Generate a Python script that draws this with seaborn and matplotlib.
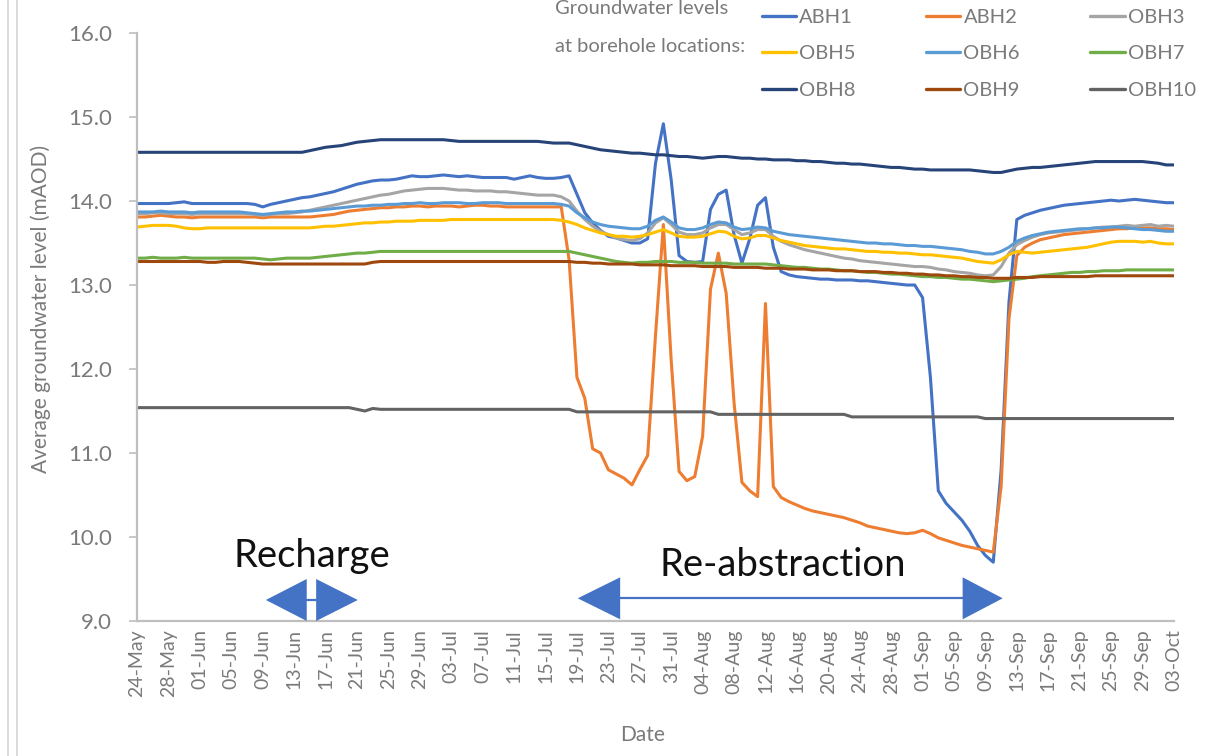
import numpy as np
import pandas as pd
import matplotlib
matplotlib.use("Agg")
import matplotlib.pyplot as plt
import matplotlib.dates as mdates
from matplotlib.lines import Line2D
import seaborn as sns

# Daily average groundwater level (mAOD) at each borehole, 24 May - 03 Oct
dates = pd.date_range("2021-05-24", "2021-10-03", freq="D")

abh1 = [
    13.97, 13.97, 13.97, 13.97, 13.97, 13.98, 13.99, 13.97, 13.97, 13.97,
    13.97, 13.97, 13.97, 13.97, 13.97, 13.96, 13.93, 13.96, 13.98, 14.00,
    14.02, 14.04, 14.05, 14.07, 14.09, 14.11, 14.14, 14.17, 14.20, 14.22,
    14.24, 14.25, 14.25, 14.26, 14.28, 14.30, 14.29, 14.29, 14.30, 14.31,
    14.30, 14.29, 14.30, 14.29, 14.28, 14.28, 14.28, 14.28, 14.26, 14.28,
    14.30, 14.28, 14.27, 14.27, 14.28, 14.30, 14.08, 13.86, 13.74, 13.65,
    13.58, 13.56, 13.53, 13.50, 13.50, 13.55, 14.45, 14.92, 14.25, 13.35,
    13.28, 13.27, 13.28, 13.90, 14.08, 14.13, 13.60, 13.26, 13.55, 13.95,
    14.04, 13.45, 13.16, 13.12, 13.10, 13.09, 13.08, 13.07, 13.07, 13.06,
    13.06, 13.06, 13.05, 13.05, 13.04, 13.03, 13.02, 13.01, 13.00, 13.00,
    12.85, 11.90, 10.55, 10.40, 10.30, 10.20, 10.07, 9.90, 9.78, 9.70,
    10.80, 12.80, 13.78, 13.83, 13.86, 13.89, 13.91, 13.93, 13.95, 13.96,
    13.97, 13.98, 13.99, 14.00, 14.01, 14.00, 14.01, 14.02, 14.01, 14.00,
    13.99, 13.98, 13.98,
]

abh2 = [
    13.81, 13.81, 13.82, 13.83, 13.82, 13.81, 13.81, 13.80, 13.81, 13.81,
    13.81, 13.81, 13.81, 13.81, 13.81, 13.81, 13.80, 13.81, 13.81, 13.81,
    13.81, 13.81, 13.81, 13.82, 13.83, 13.84, 13.86, 13.88, 13.89, 13.90,
    13.91, 13.92, 13.92, 13.93, 13.93, 13.94, 13.94, 13.93, 13.94, 13.94,
    13.94, 13.93, 13.94, 13.95, 13.95, 13.94, 13.94, 13.93, 13.93, 13.93,
    13.93, 13.93, 13.93, 13.93, 13.93, 13.30, 11.90, 11.65, 11.05, 11.00,
    10.80, 10.75, 10.70, 10.62, 10.80, 10.97, 12.40, 13.72, 12.10, 10.78,
    10.67, 10.72, 11.20, 12.95, 13.38, 12.90, 11.60, 10.65, 10.55, 10.48,
    12.78, 10.60, 10.47, 10.42, 10.38, 10.34, 10.31, 10.29, 10.27, 10.25,
    10.23, 10.20, 10.17, 10.13, 10.11, 10.09, 10.07, 10.05, 10.04, 10.05,
    10.08, 10.04, 9.99, 9.96, 9.93, 9.90, 9.88, 9.86, 9.84, 9.82,
    10.60, 12.60, 13.35, 13.45, 13.50, 13.54, 13.56, 13.58, 13.60, 13.61,
    13.62, 13.63, 13.64, 13.65, 13.66, 13.67, 13.67, 13.68, 13.68, 13.68,
    13.67, 13.67, 13.66,
]

obh3 = [
    13.85, 13.85, 13.86, 13.86, 13.85, 13.85, 13.85, 13.84, 13.85, 13.85,
    13.85, 13.85, 13.85, 13.85, 13.85, 13.84, 13.83, 13.84, 13.85, 13.85,
    13.86, 13.87, 13.89, 13.91, 13.93, 13.95, 13.97, 13.99, 14.01, 14.03,
    14.05, 14.07, 14.08, 14.10, 14.12, 14.13, 14.14, 14.15, 14.15, 14.15,
    14.14, 14.13, 14.13, 14.12, 14.12, 14.12, 14.11, 14.11, 14.10, 14.09,
    14.08, 14.07, 14.07, 14.07, 14.05, 14.00, 13.88, 13.78, 13.70, 13.64,
    13.60, 13.56, 13.54, 13.53, 13.55, 13.62, 13.74, 13.80, 13.72, 13.63,
    13.60, 13.60, 13.62, 13.68, 13.72, 13.72, 13.66, 13.60, 13.62, 13.66,
    13.66, 13.58, 13.52, 13.48, 13.45, 13.42, 13.40, 13.38, 13.36, 13.34,
    13.32, 13.31, 13.29, 13.28, 13.27, 13.26, 13.25, 13.24, 13.23, 13.22,
    13.22, 13.21, 13.19, 13.18, 13.16, 13.15, 13.14, 13.12, 13.11, 13.12,
    13.22, 13.38, 13.48, 13.53, 13.57, 13.60, 13.62, 13.63, 13.64, 13.65,
    13.66, 13.67, 13.68, 13.69, 13.69, 13.70, 13.71, 13.70, 13.71, 13.72,
    13.70, 13.71, 13.70,
]

obh5 = [
    13.69, 13.70, 13.71, 13.71, 13.71, 13.70, 13.68, 13.67, 13.67, 13.68,
    13.68, 13.68, 13.68, 13.68, 13.68, 13.68, 13.68, 13.68, 13.68, 13.68,
    13.68, 13.68, 13.68, 13.69, 13.70, 13.70, 13.71, 13.72, 13.73, 13.74,
    13.74, 13.75, 13.75, 13.76, 13.76, 13.76, 13.77, 13.77, 13.77, 13.77,
    13.78, 13.78, 13.78, 13.78, 13.78, 13.78, 13.78, 13.78, 13.78, 13.78,
    13.78, 13.78, 13.78, 13.78, 13.77, 13.75, 13.72, 13.68, 13.65, 13.62,
    13.60, 13.58, 13.58, 13.57, 13.58, 13.60, 13.63, 13.66, 13.62, 13.58,
    13.57, 13.57, 13.58, 13.61, 13.64, 13.63, 13.58, 13.55, 13.56, 13.59,
    13.59, 13.56, 13.53, 13.51, 13.49, 13.47, 13.46, 13.45, 13.44, 13.43,
    13.43, 13.42, 13.41, 13.40, 13.40, 13.39, 13.39, 13.38, 13.38, 13.37,
    13.36, 13.36, 13.35, 13.34, 13.33, 13.32, 13.30, 13.28, 13.27, 13.26,
    13.30, 13.36, 13.40, 13.39, 13.38, 13.39, 13.40, 13.41, 13.42, 13.43,
    13.44, 13.45, 13.47, 13.49, 13.51, 13.52, 13.52, 13.52, 13.51, 13.52,
    13.50, 13.49, 13.49,
]

obh6 = [
    13.87, 13.87, 13.87, 13.88, 13.87, 13.87, 13.87, 13.86, 13.87, 13.87,
    13.87, 13.87, 13.87, 13.87, 13.86, 13.85, 13.84, 13.85, 13.86, 13.87,
    13.87, 13.88, 13.88, 13.89, 13.90, 13.91, 13.92, 13.93, 13.94, 13.94,
    13.95, 13.95, 13.96, 13.96, 13.97, 13.97, 13.98, 13.97, 13.97, 13.98,
    13.98, 13.98, 13.97, 13.97, 13.98, 13.98, 13.98, 13.97, 13.97, 13.97,
    13.97, 13.97, 13.97, 13.97, 13.96, 13.94, 13.86, 13.80, 13.75, 13.72,
    13.70, 13.69, 13.68, 13.67, 13.67, 13.70, 13.77, 13.81, 13.75, 13.68,
    13.66, 13.66, 13.68, 13.72, 13.75, 13.74, 13.69, 13.66, 13.67, 13.69,
    13.68, 13.64, 13.62, 13.60, 13.59, 13.58, 13.57, 13.56, 13.55, 13.54,
    13.53, 13.52, 13.51, 13.50, 13.50, 13.49, 13.49, 13.48, 13.47, 13.47,
    13.46, 13.46, 13.45, 13.44, 13.43, 13.42, 13.40, 13.39, 13.37, 13.37,
    13.40, 13.45, 13.52, 13.56, 13.59, 13.61, 13.63, 13.64, 13.65, 13.66,
    13.67, 13.67, 13.68, 13.68, 13.69, 13.69, 13.68, 13.67, 13.66, 13.66,
    13.65, 13.64, 13.64,
]

obh7 = [
    13.32, 13.32, 13.33, 13.32, 13.32, 13.32, 13.33, 13.32, 13.32, 13.32,
    13.32, 13.32, 13.32, 13.32, 13.32, 13.32, 13.31, 13.30, 13.31, 13.32,
    13.32, 13.32, 13.32, 13.33, 13.34, 13.35, 13.36, 13.37, 13.38, 13.38,
    13.39, 13.40, 13.40, 13.40, 13.40, 13.40, 13.40, 13.40, 13.40, 13.40,
    13.40, 13.40, 13.40, 13.40, 13.40, 13.40, 13.40, 13.40, 13.40, 13.40,
    13.40, 13.40, 13.40, 13.40, 13.40, 13.40, 13.38, 13.36, 13.34, 13.32,
    13.30, 13.28, 13.27, 13.26, 13.27, 13.27, 13.28, 13.28, 13.28, 13.27,
    13.27, 13.27, 13.26, 13.26, 13.26, 13.26, 13.25, 13.25, 13.25, 13.25,
    13.25, 13.24, 13.23, 13.22, 13.21, 13.21, 13.20, 13.19, 13.19, 13.18,
    13.17, 13.17, 13.16, 13.15, 13.15, 13.14, 13.13, 13.13, 13.12, 13.11,
    13.10, 13.10, 13.09, 13.09, 13.08, 13.07, 13.07, 13.06, 13.05, 13.04,
    13.05, 13.06, 13.07, 13.08, 13.10, 13.11, 13.12, 13.13, 13.14, 13.15,
    13.15, 13.16, 13.16, 13.17, 13.17, 13.17, 13.18, 13.18, 13.18, 13.18,
    13.18, 13.18, 13.18,
]

obh8 = [
    14.58, 14.58, 14.58, 14.58, 14.58, 14.58, 14.58, 14.58, 14.58, 14.58,
    14.58, 14.58, 14.58, 14.58, 14.58, 14.58, 14.58, 14.58, 14.58, 14.58,
    14.58, 14.58, 14.60, 14.62, 14.64, 14.65, 14.66, 14.68, 14.70, 14.71,
    14.72, 14.73, 14.73, 14.73, 14.73, 14.73, 14.73, 14.73, 14.73, 14.73,
    14.72, 14.71, 14.71, 14.71, 14.71, 14.71, 14.71, 14.71, 14.71, 14.71,
    14.71, 14.71, 14.70, 14.69, 14.69, 14.69, 14.67, 14.65, 14.63, 14.61,
    14.60, 14.59, 14.58, 14.57, 14.57, 14.56, 14.55, 14.55, 14.54, 14.53,
    14.53, 14.52, 14.51, 14.52, 14.53, 14.53, 14.52, 14.51, 14.51, 14.50,
    14.50, 14.49, 14.49, 14.49, 14.48, 14.48, 14.47, 14.47, 14.46, 14.45,
    14.45, 14.44, 14.44, 14.43, 14.42, 14.41, 14.40, 14.40, 14.39, 14.38,
    14.38, 14.37, 14.37, 14.37, 14.37, 14.37, 14.37, 14.36, 14.35, 14.34,
    14.34, 14.36, 14.38, 14.39, 14.40, 14.40, 14.41, 14.42, 14.43, 14.44,
    14.45, 14.46, 14.47, 14.47, 14.47, 14.47, 14.47, 14.47, 14.47, 14.46,
    14.45, 14.43, 14.43,
]

obh9 = [
    13.28, 13.28, 13.28, 13.28, 13.28, 13.28, 13.28, 13.28, 13.28, 13.27,
    13.27, 13.28, 13.28, 13.28, 13.27, 13.26, 13.25, 13.25, 13.25, 13.25,
    13.25, 13.25, 13.25, 13.25, 13.25, 13.25, 13.25, 13.25, 13.25, 13.25,
    13.27, 13.28, 13.28, 13.28, 13.28, 13.28, 13.28, 13.28, 13.28, 13.28,
    13.28, 13.28, 13.28, 13.28, 13.28, 13.28, 13.28, 13.28, 13.28, 13.28,
    13.28, 13.28, 13.28, 13.28, 13.28, 13.28, 13.27, 13.27, 13.26, 13.26,
    13.25, 13.25, 13.25, 13.25, 13.24, 13.24, 13.24, 13.24, 13.23, 13.23,
    13.23, 13.23, 13.22, 13.22, 13.22, 13.22, 13.21, 13.21, 13.21, 13.21,
    13.20, 13.20, 13.20, 13.19, 13.19, 13.19, 13.18, 13.18, 13.18, 13.17,
    13.17, 13.17, 13.16, 13.16, 13.16, 13.15, 13.15, 13.14, 13.14, 13.13,
    13.13, 13.12, 13.12, 13.11, 13.11, 13.10, 13.10, 13.09, 13.09, 13.08,
    13.08, 13.08, 13.09, 13.09, 13.09, 13.10, 13.10, 13.10, 13.10, 13.10,
    13.10, 13.10, 13.11, 13.11, 13.11, 13.11, 13.11, 13.11, 13.11, 13.11,
    13.11, 13.11, 13.11,
]

obh10 = [
    11.54, 11.54, 11.54, 11.54, 11.54, 11.54, 11.54, 11.54, 11.54, 11.54,
    11.54, 11.54, 11.54, 11.54, 11.54, 11.54, 11.54, 11.54, 11.54, 11.54,
    11.54, 11.54, 11.54, 11.54, 11.54, 11.54, 11.54, 11.54, 11.52, 11.50,
    11.53, 11.52, 11.52, 11.52, 11.52, 11.52, 11.52, 11.52, 11.52, 11.52,
    11.52, 11.52, 11.52, 11.52, 11.52, 11.52, 11.52, 11.52, 11.52, 11.52,
    11.52, 11.52, 11.52, 11.52, 11.52, 11.52, 11.49, 11.49, 11.49, 11.49,
    11.49, 11.49, 11.49, 11.49, 11.49, 11.49, 11.49, 11.49, 11.49, 11.49,
    11.49, 11.49, 11.49, 11.49, 11.46, 11.46, 11.46, 11.46, 11.46, 11.46,
    11.46, 11.46, 11.46, 11.46, 11.46, 11.46, 11.46, 11.46, 11.46, 11.46,
    11.46, 11.43, 11.43, 11.43, 11.43, 11.43, 11.43, 11.43, 11.43, 11.43,
    11.43, 11.43, 11.43, 11.43, 11.43, 11.43, 11.43, 11.43, 11.41, 11.41,
    11.41, 11.41, 11.41, 11.41, 11.41, 11.41, 11.41, 11.41, 11.41, 11.41,
    11.41, 11.41, 11.41, 11.41, 11.41, 11.41, 11.41, 11.41, 11.41, 11.41,
    11.41, 11.41, 11.41,
]

series_names = ["ABH1", "ABH2", "OBH3", "OBH5", "OBH6", "OBH7", "OBH8", "OBH9", "OBH10"]
series_values = [abh1, abh2, obh3, obh5, obh6, obh7, obh8, obh9, obh10]
series_colors = ["#4472C4", "#ED7D31", "#A5A5A5", "#FFC000", "#5B9BD5",
                 "#70AD47", "#264478", "#9E480E", "#636363"]

tick_labels = [
    "24-May", "28-May", "01-Jun", "05-Jun", "09-Jun", "13-Jun", "17-Jun",
    "21-Jun", "25-Jun", "29-Jun", "03-Jul", "07-Jul", "11-Jul", "15-Jul",
    "19-Jul", "23-Jul", "27-Jul", "31-Jul", "04-Aug", "08-Aug", "12-Aug",
    "16-Aug", "20-Aug", "24-Aug", "28-Aug", "01-Sep", "05-Sep", "09-Sep",
    "13-Sep", "17-Sep", "21-Sep", "25-Sep", "29-Sep", "03-Oct",
]
y_ticks = [9.0, 10.0, 11.0, 12.0, 13.0, 14.0, 15.0, 16.0]

# Long-form table for seaborn
df = pd.DataFrame({
    "Date": np.tile(dates, len(series_names)),
    "Level": np.concatenate(series_values),
    "Borehole": np.repeat(series_names, len(dates)),
})

sns.set_theme(style="white")
plt.rcParams["font.family"] = ["Lato", "DejaVu Sans"]

TEXT_GREY = "#7A7A7A"
AXIS_GREY = "#BFBFBF"
ARROW_BLUE = "#4472C4"

fig = plt.figure(figsize=(12.14, 7.56), dpi=100)
ax = fig.add_axes([0.1129, 0.1786, 0.8541, 0.7777])

palette = dict(zip(series_names, series_colors))
sns.lineplot(data=df, x="Date", y="Level", hue="Borehole", hue_order=series_names,
             palette=palette, estimator=None, sort=False, linewidth=2.2,
             legend=False, ax=ax)

ax.set_xlim(dates[0], dates[-1])
ax.set_ylim(9, 16)

ax.set_xticks(dates[::4])
ax.set_xticklabels(tick_labels, rotation=90, fontsize=14, color=TEXT_GREY)
ax.set_yticks(y_ticks)
ax.set_yticklabels([f"{v:.1f}" for v in y_ticks], fontsize=16, color=TEXT_GREY)
ax.tick_params(axis="x", length=0, pad=6)
ax.tick_params(axis="y", length=6, width=1.2, color=AXIS_GREY, direction="out", pad=12, left=True)

for side in ["top", "right"]:
    ax.spines[side].set_visible(False)
for side in ["left", "bottom"]:
    ax.spines[side].set_color(AXIS_GREY)
    ax.spines[side].set_linewidth(1.6)

ax.set_ylabel("Average groundwater level (mAOD)", fontsize=15, color=TEXT_GREY)
ax.yaxis.set_label_coords(-0.083, 0.53)
ax.set_xlabel("Date", fontsize=15, color=TEXT_GREY)
ax.xaxis.set_label_coords(0.488, -0.177)

# Period annotations: double-headed arrows with labels
def day(offset):
    return mdates.date2num(dates[0] + pd.Timedelta(days=offset))

def double_arrow(left_tip, left_base, right_base, right_tip, yc, half_h):
    ax.fill([day(left_tip), day(left_base), day(left_base)],
            [yc, yc + half_h, yc - half_h], color=ARROW_BLUE, lw=0, zorder=5)
    ax.fill([day(right_tip), day(right_base), day(right_base)],
            [yc, yc + half_h, yc - half_h], color=ARROW_BLUE, lw=0, zorder=5)
    ax.plot([day(left_base), day(right_base)], [yc, yc], color=ARROW_BLUE, lw=1.6, zorder=5)

double_arrow(16.4, 21.6, 22.8, 28.1, 9.25, 0.25)
double_arrow(56.1, 61.5, 105.1, 110.2, 9.27, 0.25)

ax.text(day(22.3), 9.77, "Recharge", ha="center", va="center", fontsize=27.5, color="#111111")
ax.text(day(82.2), 9.67, "Re-abstraction", ha="center", va="center", fontsize=27.5, color="#111111")

# Legend in three columns, filled row by row
handles = [Line2D([0], [0], color=c, lw=2.4) for c in series_colors]
order = [0, 3, 6, 1, 4, 7, 2, 5, 8]
leg = fig.legend([handles[i] for i in order], [series_names[i] for i in order],
                 loc="upper left", bbox_to_anchor=(762 / 1214, 1 - 9 / 756),
                 ncol=3, frameon=False, fontsize=14.5, handlelength=1.7,
                 handletextpad=0.15, columnspacing=3.5, labelspacing=0.95,
                 borderpad=0, borderaxespad=0)
for t in leg.get_texts():
    t.set_color(TEXT_GREY)

fig.text(555 / 1214, 1 - 8 / 756, "Groundwater levels", ha="left", va="center",
         fontsize=14.5, color=TEXT_GREY)
fig.text(555 / 1214, 1 - 47 / 756, "at borehole locations:", ha="left", va="center",
         fontsize=14.5, color=TEXT_GREY)

# Page frame on the left edge
for xp in (8, 17):
    fig.add_artist(Line2D([xp / 1214, xp / 1214], [0, 1], transform=fig.transFigure,
                          color="#D4D4D4", lw=1.2))

fig.savefig("out.png", dpi=100, facecolor="white")
